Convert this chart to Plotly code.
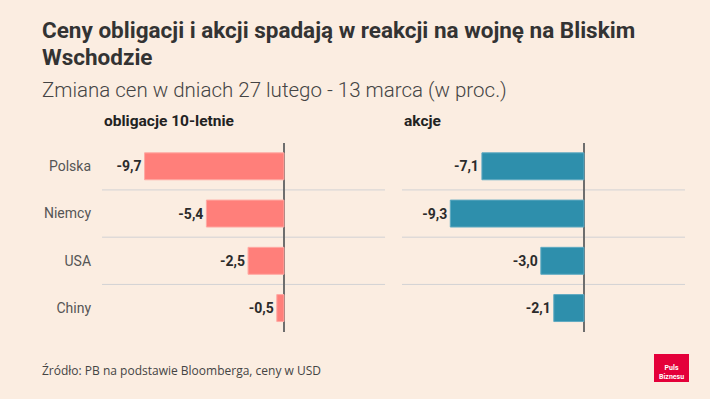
import plotly.graph_objects as go

categories = ["Polska", "Niemcy", "USA", "Chiny"]
bonds = [-9.7, -5.4, -2.5, -0.5]
stocks = [-7.1, -9.3, -3.0, -2.1]
panel_titles = ["obligacje 10-letnie", "akcje"]
title_lines = ["Ceny obligacji i akcji spadają w reakcji na wojnę na Bliskim", "Wschodzie"]
subtitle = "Zmiana cen w dniach 27 lutego - 13 marca (w proc.)"
source = "Źródło: PB na podstawie Bloomberga, ceny w USD"

BG = "#FBEDE1"
SALMON = "#FF7F7A"
TEAL = "#2E8FAC"
FONT = "Roboto"

def fmt(v):
    return f"{v:.1f}".replace(".", ",")

fig = go.Figure()
fig.add_trace(go.Bar(
    x=bonds, y=categories, orientation="h", xaxis="x", yaxis="y",
    marker=dict(color=SALMON, line=dict(color="#FFA9A3", width=1)),
    width=0.57, text=[fmt(v) for v in bonds], textposition="outside",
    textfont=dict(family=FONT, size=14, color="#2b2b2b", weight="bold"),
    cliponaxis=False, showlegend=False, hoverinfo="skip"))
fig.add_trace(go.Bar(
    x=stocks, y=categories, orientation="h", xaxis="x2", yaxis="y2",
    marker=dict(color=TEAL, line=dict(color="#5FAAC2", width=1)),
    width=0.57, text=[fmt(v) for v in stocks], textposition="outside",
    textfont=dict(family=FONT, size=14, color="#2b2b2b", weight="bold"),
    cliponaxis=False, showlegend=False, hoverinfo="skip"))

xrange = [-12.66, 7.03]
ydom = [0.1687, 0.6424]
common_x = dict(range=xrange, showgrid=False, showticklabels=False, zeroline=True,
                zerolinecolor="#6E6E6E", zerolinewidth=2, fixedrange=True)
fig.update_layout(
    width=710, height=399,
    paper_bgcolor=BG, plot_bgcolor=BG,
    margin=dict(l=0, r=0, t=0, b=0),
    xaxis=dict(domain=[0.1437, 0.5423], **common_x),
    xaxis2=dict(domain=[0.5662, 0.9648], **common_x),
    yaxis=dict(domain=ydom, anchor="x", range=[3.5, -0.5], showgrid=False,
               ticks="", ticklabelstandoff=10, fixedrange=True,
               tickfont=dict(family=FONT, size=14, color="#555555")),
    yaxis2=dict(domain=ydom, anchor="x2", range=[3.5, -0.5], showgrid=False,
                showticklabels=False, fixedrange=True),
    font=dict(family=FONT),
)

# separators between categories
for ax_x, ax_y in (("x domain", "y"), ("x2 domain", "y2")):
    for k in range(len(categories) - 1):
        fig.add_shape(type="line", xref=ax_x, yref=ax_y, x0=0, x1=1,
                      y0=k + 0.5, y1=k + 0.5, layer="below",
                      line=dict(color="#D2D2D4", width=1))

def py(px):
    return 1 - px / 399

ann = []
ann.append(dict(text="<b>" + title_lines[0] + "</b>", x=40 / 710, y=py(30.5), xref="paper", yref="paper",
                xanchor="left", yanchor="middle", showarrow=False,
                font=dict(family=FONT, size=22.5, color="#333333")))
ann.append(dict(text="<b>" + title_lines[1] + "</b>", x=40 / 710, y=py(57), xref="paper", yref="paper",
                xanchor="left", yanchor="middle", showarrow=False,
                font=dict(family=FONT, size=22.5, color="#333333")))
ann.append(dict(text=subtitle, x=40 / 710, y=py(90), xref="paper", yref="paper", xanchor="left", yanchor="middle",
                showarrow=False, font=dict(family=FONT, size=20.5, color="#444444", weight=300)))
ann.append(dict(text="<b>" + panel_titles[0] + "</b>", x=102 / 710, y=py(121), xref="paper", yref="paper",
                xanchor="left", yanchor="middle", showarrow=False,
                font=dict(family=FONT, size=15.5, color="#222222")))
ann.append(dict(text="<b>" + panel_titles[1] + "</b>", x=402 / 710, y=py(121), xref="paper", yref="paper",
                xanchor="left", yanchor="middle", showarrow=False,
                font=dict(family=FONT, size=15.5, color="#222222")))
ann.append(dict(text=source, x=40 / 710, y=py(370),
                xref="paper", yref="paper", xanchor="left", yanchor="middle", showarrow=False,
                font=dict(family="Open Sans", size=12, color="#444444")))
ann.append(dict(text="<b>Puls<br>Biznesu</b>", x=671.5 / 710, y=py(372), xref="paper", yref="paper",
                xanchor="center", yanchor="middle", showarrow=False,
                font=dict(family=FONT, size=7, color="#FFFFFF")))
fig.update_layout(annotations=ann)

fig.add_shape(type="rect", xref="paper", yref="paper", x0=654 / 710, x1=689 / 710,
              y0=py(382), y1=py(354), fillcolor="#E4003A", line=dict(width=0), layer="below")

fig.write_html("out.html", config={"displayModeBar": False},
               post_script="document.body.style.margin='0';document.body.style.background='" + BG + "';")
